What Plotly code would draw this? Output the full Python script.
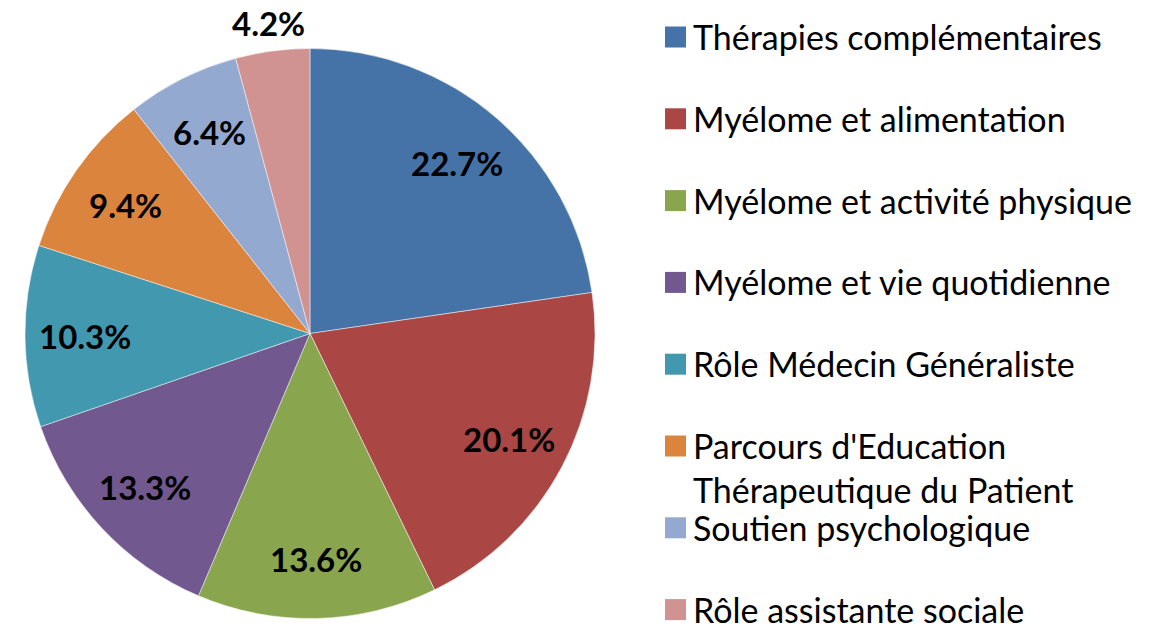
import math
import plotly.graph_objects as go

labels = ["Thérapies complémentaires", "Myélome et alimentation", "Myélome et activité physique",
          "Myélome et vie quotidienne", "Rôle Médecin Généraliste",
          "Parcours d'Education<br>Thérapeutique du Patient", "Soutien psychologique",
          "Rôle assistante sociale"]
values = [22.7, 20.1, 13.6, 13.3, 10.3, 9.4, 6.4, 4.2]
colors = ["#4572A7", "#AA4643", "#89A54E", "#71588F", "#4198AF", "#DB843D", "#93A9CF", "#D19392"]

W, H = 1158, 630
cx, cy, R = 310, 333.5, 285  # pixels

fig = go.Figure(go.Pie(
    labels=labels, values=values, sort=False, direction="clockwise", rotation=0,
    marker=dict(colors=colors, line=dict(color="rgba(255,255,255,0.6)", width=0.8)),
    textinfo="none", hoverinfo="label+percent", showlegend=False,
    domain=dict(x=[(cx - R) / W, (cx + R) / W], y=[(H - cy - R) / H, (H - cy + R) / H]),
))

annotations = []
total = sum(values)
cum = 0
for v in values:
    mid = (cum + v / 2) / total * 2 * math.pi
    cum += v
    rf = 0.79 if v > 5 else 1.1
    px = cx + rf * R * math.sin(mid)
    py = cy - rf * R * math.cos(mid)
    annotations.append(dict(x=px / W, y=1 - py / H, xref="paper", yref="paper",
                            text=f"<b>{v:.1f}%</b>", showarrow=False,
                            font=dict(family="Lato", size=33, color="black"),
                            xanchor="center", yanchor="middle"))

shapes = []
row0, step = 37, 81.8
for i, (lab, col) in enumerate(zip(labels, colors)):
    yc = row0 + i * step
    shapes.append(dict(type="rect", xref="paper", yref="paper",
                       x0=665 / W, x1=686 / W, y0=1 - (yc - 10.5) / H, y1=1 - (yc + 10.5) / H,
                       fillcolor=col, line=dict(width=0)))
    annotations.append(dict(x=691 / W, y=1 - (yc - 23) / H, xref="paper", yref="paper",
                            text=lab, showarrow=False, align="left",
                            font=dict(family="Lato", size=34, color="black"),
                            xanchor="left", yanchor="top"))

fig.update_layout(width=W, height=H, margin=dict(l=0, r=0, t=0, b=0),
                  paper_bgcolor="white", plot_bgcolor="white",
                  annotations=annotations, shapes=shapes)
fig.write_html("out.html", config={"displayModeBar": False},
               post_script="document.body.style.margin='0px';document.body.style.overflow='hidden';")
